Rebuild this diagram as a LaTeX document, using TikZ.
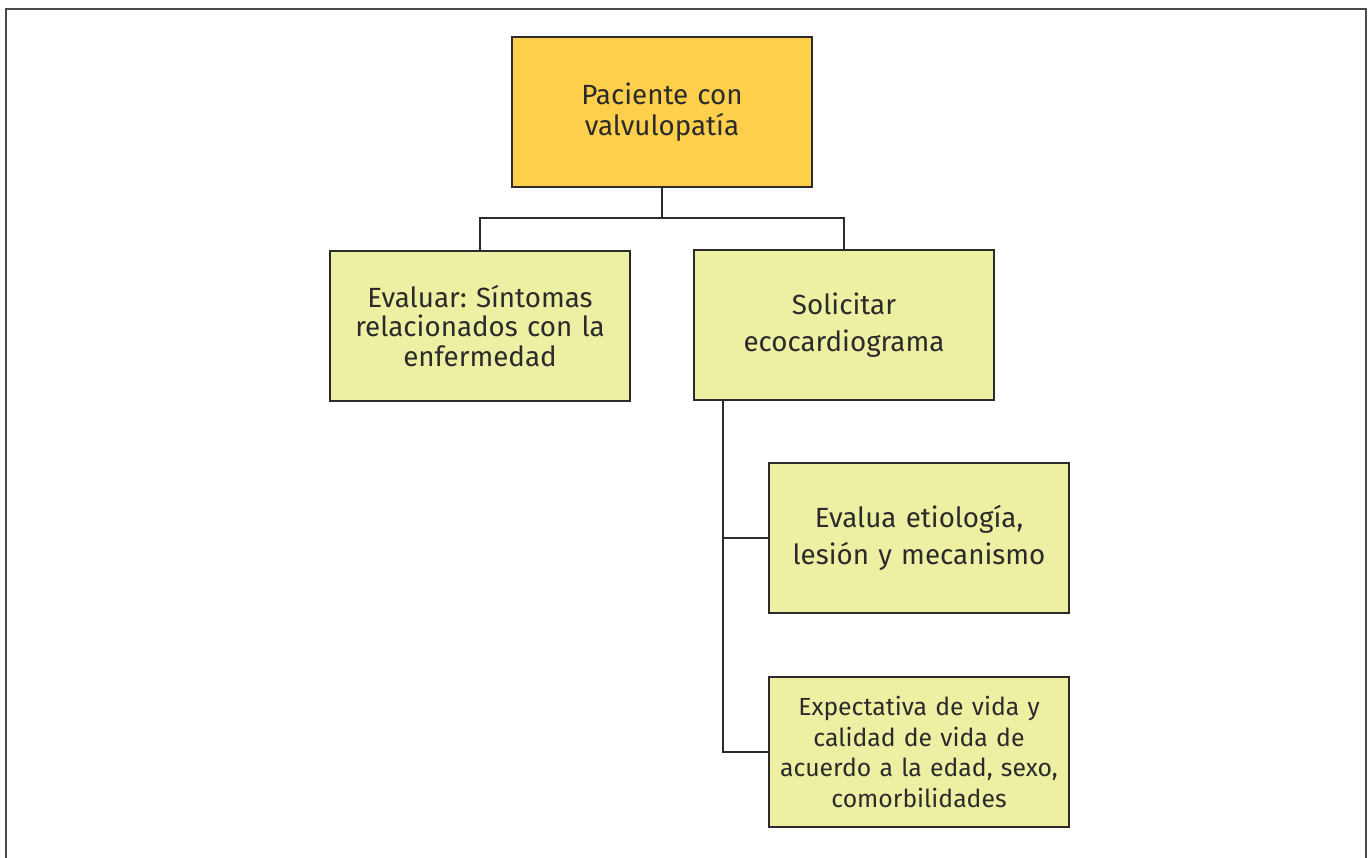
\documentclass[tikz,border=0pt]{standalone}
\usepackage{fontspec}
\setmainfont{Fira Sans}
\frenchspacing
\usetikzlibrary{positioning, calc}
\definecolor{vaOrange}{HTML}{FDCF4B}
\definecolor{vaLime}{HTML}{EDF0A2}
\definecolor{vaInk}{HTML}{2B2B2B}
\tikzset{
  frameline/.style = {line width=1.3pt, vaInk!85},
  link/.style      = {line width=0.8pt, vaInk},
  boxbase/.style   = {draw=vaInk, line width=0.9pt, minimum width=6cm,
                      minimum height=3cm, align=center, text=vaInk,
                      inner sep=0pt},
  rootbox/.style   = {boxbase, fill=vaOrange, text width=5.8cm,
                      font=\fontsize{15.8}{17.6}\selectfont},
  stepbox/.style   = {boxbase, fill=vaLime, text width=5.8cm,
                      font=\fontsize{15.8}{16.8}\selectfont},
  smallbox/.style  = {boxbase, fill=vaLime, text width=5.8cm,
                      font=\fontsize{14.1}{17.4}\selectfont},
}
\begin{document}
\begin{tikzpicture}[x=0.02cm, y=-0.02cm]
  \useasboundingbox (0,0) rectangle (1370,858);
  % outer frame, open at the bottom
  \draw[frameline] (6,870) -- (6,9) -- (1366,9) -- (1366,870);
  % boxes
  \node[rootbox]  (root)   at (662,112) {Paciente con\\valvulopatía};
  \node[stepbox]  (eval)   at (480,326) {Evaluar: Síntomas\\relacionados con la\\enfermedad};
  \node[stepbox]  (eco)    at (844,325) {Solicitar\\[4pt]ecocardiograma};
  \node[stepbox]  (etio)   at (919,538) {Evalua etiología,\\[4pt]lesión y mecanismo};
  \node[smallbox] (expect) at (919,752) {Expectativa de vida y\\calidad de vida de\\acuerdo a la edad, sexo,\\comorbilidades};
  % connectors
  \coordinate (split) at (662,218);
  \coordinate (trunk) at (723,400);
  \draw[link] (root.south) -- (split);
  \draw[link] (eval.north) |- (split) -| (eco.north);
  \draw[link] (trunk) |- (etio.west);
  \draw[link] (trunk) |- (expect.west);
\end{tikzpicture}
\end{document}
